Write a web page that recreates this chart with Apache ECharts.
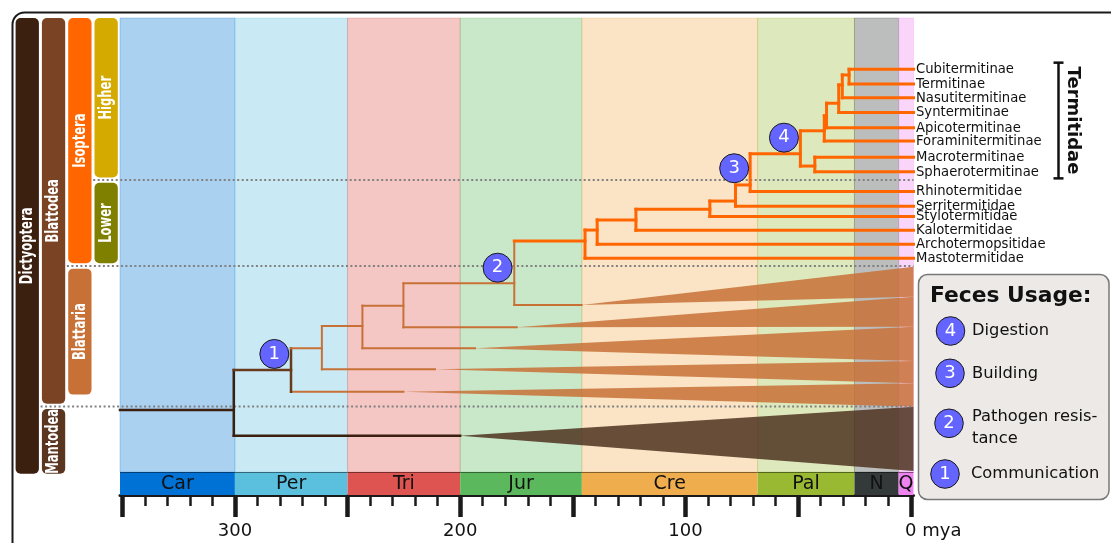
<!DOCTYPE html>
<html><head><meta charset="utf-8">
<script src="https://cdn.jsdelivr.net/npm/echarts@6/dist/echarts.min.js"></script>
<style>html,body{margin:0;padding:0;background:#fff}#c{width:1111px;height:543px}</style>
</head><body><div id="c"></div>
<script>
// ================= DATA =================
// Geological periods (Ma)
const periodNames   = ['Car','Per','Tri','Jur','Cre','Pal','N','Q'];
const periodStartMa = [351, 300, 250, 200, 146, 68, 25, 5.4];
const periodEndMa   = [300, 250, 200, 146, 68, 25, 5.4, -1.2];
const periodColors  = ['#0072d6','#5bc0de','#dd5450','#5cb85c','#f0ad4e','#99b933','#343a3a','#ee82ee'];

// Tree leaves (termite families / subfamilies), row = vertical slot
const leafNames   = ['Cubitermitinae','Termitinae','Nasutitermitinae','Syntermitinae','Apicotermitinae','Foraminitermitinae','Macrotermitinae','Sphaerotermitinae','Rhinotermitidae','Serritermitidae','Stylotermitidae','Kalotermitidae','Archotermopsitidae','Mastotermitidae'];
const leafRows    = [3.5, 4.5, 5.45, 6.45, 7.5, 8.4, 9.5, 10.5, 11.85, 12.85, 13.55, 14.5, 15.45, 16.4];
const leafParents = ['L','L','K','J','X','G1','H','H','E2','D2','C2','B2','A','I0'];

// Internal nodes
const nodeIds     = ['R','B','C','D','E','N2','I0','A','B2','C2','D2','E2','F','H','G1','X','J','K','L'];
const nodeParents = [null,'R','B','C','D','E','N2','I0','A','B2','C2','D2','E2','F','F','G1','X','J','K'];
const nodeAgesMa  = [300.5,275.1,261.4,243.4,225.2,176.0,144.6,139.2,122.0,89.2,77.8,71.3,49.0,42.6,38.4,37.4,32.0,30.4,27.4];
const nodeRows    = [26.77,24.04,22.55,21.03,19.64,18.12,15.23,14.48,13.79,13.06,12.50,11.40,9.27,10.11,7.70,6.68,5.82,4.57,3.89];
const nodeClades  = ['dict','blattodea','blattaria','blattaria','blattaria','blattaria','isoptera','isoptera','isoptera','isoptera','isoptera','isoptera','isoptera','isoptera','isoptera','isoptera','isoptera','isoptera','isoptera'];
const rootStemStartMa = 351;

// Collapsed clades (wedges)
const collapsedParents    = ['N2','E','D','C','B','R'];
const collapsedTipAgesMa  = [146.1,174.9,193.4,211.2,225.2,200.0];
const collapsedRows       = [19.60,21.12,22.55,23.99,25.52,28.52];
const collapsedTopRows    = [16.98,19.03,21.08,23.42,24.94,26.54];
const collapsedBottomRows = [19.03,21.08,23.42,24.94,26.54,30.93];
const collapsedClades     = ['blattaria','blattaria','blattaria','blattaria','blattaria','mantodea'];

// Feces-usage badges on the tree
const badgeNumbers = [1, 2, 3, 4];
const badgeAgesMa  = [282.5, 183.4, 78.4, 56.3];
const badgeRows    = [22.94, 17.05, 10.26, 8.17];

// Clade bars on the left
const cladeBarNames    = ['Dictyoptera','Blattodea','Mantodea','Isoptera','Blattaria','Higher','Lower'];
const cladeBarColumns  = [0, 1, 1, 2, 2, 3, 3];
const cladeBarFromRows = [0, 0, 26.52, 0, 16.93, 0, 11.07];
const cladeBarToRows   = [31, 26.52, 31, 16.93, 25.9, 11.07, 16.93];
const cladeBarColors   = ['#3b1f0f','#7a4424','#5a3520','#ff6600','#c87137','#d4aa00','#808000'];

const dividerRows    = [11.07, 16.93, 26.52];
const dividerColumns = [3, 2, 1];

// Legend
const legendTitle  = 'Feces Usage:';
const usageNumbers = [4, 3, 2, 1];
const usageLabels  = ['Digestion', 'Building', 'Pathogen resis-\ntance', 'Communication'];

const groupLabel = 'Termitidae';
const groupFirstLeaf = 0, groupLastLeaf = 7;

// ================= STYLE / LAYOUT =================
const X_MIN = -1.2, X_MAX = 351, ROWS = 31;
const FONT = "'DejaVu Sans', sans-serif";
const lineColor = {dict:'#3b1f0f', blattodea:'#6a3a1c', blattaria:'#c87137', isoptera:'#ff6600', mantodea:'#3b1f0f'};
const lineWidth = {dict:2.5, blattodea:2.5, blattaria:2, isoptera:3, mantodea:2.5};
const wedgeFill = {blattaria:'#c87137', mantodea:'#4e3220'};
const BADGE = '#6464ff';

function hexA(hex, a){ const n = parseInt(hex.slice(1),16); return 'rgba('+((n>>16)&255)+','+((n>>8)&255)+','+(n&255)+','+a+')'; }

// ---- build tree segments from the data ----
const ageOf = {}, cladeOf = {}, childRows = {};
nodeIds.forEach((id,i)=>{ ageOf[id]=nodeAgesMa[i]; cladeOf[id]=nodeClades[i]; childRows[id]=[]; });
nodeIds.forEach((id,i)=>{ if(nodeParents[i]) childRows[nodeParents[i]].push(nodeRows[i]); });
leafNames.forEach((n,i)=>childRows[leafParents[i]].push(leafRows[i]));
collapsedParents.forEach((p,i)=>childRows[p].push(collapsedRows[i]));

const segments = [];
collapsedParents.forEach((p,i)=>segments.push([ageOf[p], collapsedRows[i], collapsedTipAgesMa[i], collapsedRows[i], collapsedClades[i]]));
nodeIds.forEach((id,i)=>{
  const p = nodeParents[i];
  segments.push([p ? ageOf[p] : rootStemStartMa, nodeRows[i], nodeAgesMa[i], nodeRows[i], nodeClades[i]]);
  const rs = childRows[id];
  segments.push([nodeAgesMa[i], Math.min.apply(null,rs), nodeAgesMa[i], Math.max.apply(null,rs), nodeClades[i]]);
});
leafNames.forEach((n,i)=>segments.push([ageOf[leafParents[i]], leafRows[i], X_MIN, leafRows[i], cladeOf[leafParents[i]]]));

const chart = echarts.init(document.getElementById('c'), null, {renderer:'canvas', width:1111, height:543});

const option = {
  animation: false,
  backgroundColor: '#fff',
  grid: [
    {left:120, right:197.5, top:18, height:454},           // tree
    {left:120, right:197.5, top:472, height:23},           // period bar
    {left:122.25, right:200.2, top:472, height:23},        // tick axis
    {left:15.3, width:105.2, top:18, height:454}            // clade bars
  ],
  xAxis: [
    {gridIndex:0, type:'value', min:X_MIN, max:X_MAX, inverse:true, show:false},
    {gridIndex:1, type:'value', min:X_MIN, max:X_MAX, inverse:true, position:'bottom',
     axisLine:{show:true, onZero:false, lineStyle:{color:'#1a1a1a', width:3}},
     axisTick:{show:false}, axisLabel:{show:false}, splitLine:{show:false}},
    {gridIndex:2, type:'value', min:0, max:350, interval:50, inverse:true, position:'bottom',
     axisLine:{show:false},
     axisTick:{show:true, length:22, lineStyle:{color:'#1a1a1a', width:4.5}},
     minorTick:{show:true, splitNumber:5, length:11, lineStyle:{color:'#1a1a1a', width:2.5}},
     splitLine:{show:false}, minorSplitLine:{show:false},
     axisLabel:{show:true, margin:27, fontSize:18, fontFamily:FONT, color:'#111',
       formatter: v => (v % 100 !== 0) ? '' : (v === 0 ? '{pad| }0 mya' : String(v)),
       rich:{pad:{width:45, fontSize:18}}}},
    {gridIndex:3, type:'value', min:0, max:4, show:false}
  ],
  yAxis: [
    {gridIndex:0, type:'value', min:0, max:ROWS, inverse:true, show:false},
    {gridIndex:1, type:'value', min:0, max:1, show:false},
    {gridIndex:2, type:'value', min:0, max:1, show:false},
    {gridIndex:3, type:'value', min:0, max:ROWS, inverse:true, show:false}
  ],
  series: [
    // period background bands
    {type:'custom', xAxisIndex:0, yAxisIndex:0, z:1, silent:true,
     data: periodNames.map((n,i)=>[periodStartMa[i], periodEndMa[i]]),
     renderItem:(params, api)=>{
       const i = params.dataIndex;
       const a = api.coord([periodStartMa[i], 0]), b = api.coord([periodEndMa[i], ROWS]);
       return {type:'rect', shape:{x:a[0], y:a[1], width:b[0]-a[0], height:b[1]-a[1]},
         style:{fill:hexA(periodColors[i],0.33), stroke:hexA(periodColors[i],0.25), lineWidth:1}};
     }},
    // wedges (collapsed clades)
    {type:'custom', xAxisIndex:0, yAxisIndex:0, z:2, silent:true,
     data: collapsedParents.map((p,i)=>[collapsedTipAgesMa[i], collapsedRows[i]]),
     renderItem:(params, api)=>{
       const i = params.dataIndex;
       const tip = api.coord([collapsedTipAgesMa[i], collapsedRows[i]]);
       const top = api.coord([X_MIN, collapsedTopRows[i]]);
       const bot = api.coord([X_MIN, collapsedBottomRows[i]]);
       return {type:'polygon', shape:{points:[tip, top, bot]},
         style:{fill:wedgeFill[collapsedClades[i]], opacity:0.85}};
     }},
    // tree branches
    {type:'custom', xAxisIndex:0, yAxisIndex:0, z:4, silent:true,
     data: segments.map((s,i)=>[s[0], s[1], s[2], s[3]]),
     renderItem:(params, api)=>{
       const s = segments[params.dataIndex];
       const a = api.coord([s[0], s[1]]), b = api.coord([s[2], s[3]]);
       return {type:'line', shape:{x1:a[0], y1:a[1], x2:b[0], y2:b[1]},
         style:{stroke:lineColor[s[4]], lineWidth:lineWidth[s[4]], lineCap:'square'}};
     }},
    // leaf labels
    {type:'custom', xAxisIndex:0, yAxisIndex:0, z:5, silent:true, clip:false,
     data: leafNames.map((n,i)=>[X_MIN, leafRows[i]]),
     renderItem:(params, api)=>{
       const i = params.dataIndex;
       const p = api.coord([X_MIN, leafRows[i]]);
       return {type:'text', x:p[0]+2.5, y:p[1]+0.5,
         style:{text:leafNames[i], fill:'#111', font:'13.2px '+FONT, align:'left', verticalAlign:'middle'}};
     }},
    // badges
    {type:'scatter', xAxisIndex:0, yAxisIndex:0, z:6, silent:true, symbol:'circle', symbolSize:29,
     data: badgeNumbers.map((n,i)=>[badgeAgesMa[i], badgeRows[i], n]),
     itemStyle:{color:BADGE, borderColor:'#1a1a1a', borderWidth:1, opacity:1},
     label:{show:true, position:'inside', formatter:p=>String(p.value[2]), color:'#fff', fontSize:18, fontFamily:FONT}},
    // period bar
    {type:'custom', xAxisIndex:1, yAxisIndex:1, z:2, silent:true,
     data: periodNames.map((n,i)=>[periodStartMa[i], periodEndMa[i]]),
     renderItem:(params, api)=>{
       const i = params.dataIndex;
       const a = api.coord([periodStartMa[i], 1]), b = api.coord([periodEndMa[i], 0]);
       return {type:'group', children:[
         {type:'rect', shape:{x:a[0], y:a[1], width:b[0]-a[0], height:b[1]-a[1]}, style:{fill:periodColors[i]}},
         {type:'line', shape:{x1:a[0], y1:a[1]+0.5, x2:b[0], y2:a[1]+0.5}, style:{stroke:'rgba(0,0,0,0.45)', lineWidth:1}},
         {type:'text', x:(a[0]+b[0])/2, y:(a[1]+b[1])/2+1,
          style:{text:periodNames[i], fill:'#111', font:'19px '+FONT, align:'center', verticalAlign:'middle'}}
       ]};
     }},
    // clade bars on the left
    {type:'custom', xAxisIndex:3, yAxisIndex:3, z:2, silent:true, clip:false,
     data: cladeBarNames.map((n,i)=>[cladeBarColumns[i], cladeBarFromRows[i], cladeBarToRows[i]]),
     renderItem:(params, api)=>{
       const i = params.dataIndex;
       const col = cladeBarColumns[i], from = cladeBarFromRows[i], to = cladeBarToRows[i];
       const a = api.coord([col, from]), b = api.coord([col+1, to]);
       const x = a[0] + 0.3, w = (b[0]-a[0]) - 3;
       const y0 = a[1] + (from > 0 ? 2.7 : 0);
       const y1 = b[1] + (to < ROWS ? -2.7 : 1.7);
       return {type:'group', children:[
         {type:'rect', shape:{x:x, y:y0, width:w, height:y1-y0, r:5}, style:{fill:cladeBarColors[i]}},
         {type:'text', x:x+w/2+0.5, y:(y0+y1)/2, rotation:Math.PI/2, scaleX:0.68,
          style:{text:cladeBarNames[i], fill:'#fff', font:'bold 17px '+FONT, align:'center', verticalAlign:'middle'}}
       ]};
     }}
  ],
  graphic: []
};
chart.setOption(option);

// ---- overlay graphics positioned through the axes ----
const toTree = (x,y)=>chart.convertToPixel({xAxisIndex:0, yAxisIndex:0}, [x,y]);
const toBars = (x,y)=>chart.convertToPixel({xAxisIndex:3, yAxisIndex:3}, [x,y]);
const g = [];
// outer frame
g.push({type:'rect', z:0, silent:true, shape:{x:12.5, y:12.5, width:1200, height:600, r:12},
  style:{fill:'none', stroke:'#1a1a1a', lineWidth:2}});
// dotted clade dividers
dividerRows.forEach((r,i)=>{
  const left = toBars(dividerColumns[i], r);
  const right = toTree(X_MIN, r);
  g.push({type:'line', z:3, silent:true, shape:{x1:left[0]-1, y1:right[1], x2:right[0], y2:right[1]},
    style:{stroke:'#808080', lineWidth:2, lineDash:[2,2.5]}});
});
// Termitidae bracket
const bt = toTree(X_MIN, leafRows[groupFirstLeaf]-0.45)[1], bb = toTree(X_MIN, leafRows[groupLastLeaf]+0.45)[1];
const bx = 1058.5;
g.push({type:'line', z:5, silent:true, shape:{x1:bx, y1:bt, x2:bx, y2:bb}, style:{stroke:'#111', lineWidth:2.5}});
g.push({type:'line', z:5, silent:true, shape:{x1:bx-5, y1:bt, x2:bx+5, y2:bt}, style:{stroke:'#111', lineWidth:2.5}});
g.push({type:'line', z:5, silent:true, shape:{x1:bx-5, y1:bb, x2:bx+5, y2:bb}, style:{stroke:'#111', lineWidth:2.5}});
g.push({type:'text', z:5, silent:true, x:1073, y:(bt+bb)/2, rotation:-Math.PI/2,
  style:{text:groupLabel, fill:'#111', font:'bold 18px '+FONT, align:'center', verticalAlign:'middle'}});
// legend box
g.push({type:'rect', z:8, silent:true, shape:{x:918.5, y:274.5, width:190.5, height:225, r:9},
  style:{fill:'#ece9e6', stroke:'#787878', lineWidth:1.5}});
g.push({type:'text', z:9, silent:true, x:930, y:296,
  style:{text:legendTitle, fill:'#111', font:'bold 21.8px '+FONT, align:'left', verticalAlign:'middle'}});
const legCx = [950.5, 950, 949, 945], legCy = [331, 373.3, 423.3, 474], legTy = [331, 373.3, 428, 474], legTx = [972, 972, 972, 971];
usageNumbers.forEach((n,i)=>{
  g.push({type:'circle', z:9, silent:true, shape:{cx:legCx[i], cy:legCy[i], r:14.3},
    style:{fill:BADGE, stroke:'#1a1a1a', lineWidth:1}});
  g.push({type:'text', z:10, silent:true, x:legCx[i], y:legCy[i]+0.5,
    style:{text:String(n), fill:'#fff', font:'18px '+FONT, align:'center', verticalAlign:'middle'}});
  g.push({type:'text', z:9, silent:true, x:legTx[i], y:legTy[i],
    style:{text:usageLabels[i], fill:'#111', font:'16.3px '+FONT, align:'left', verticalAlign:'middle', lineHeight:22.5}});
});
chart.setOption({graphic: g});
</script>
</body></html>
